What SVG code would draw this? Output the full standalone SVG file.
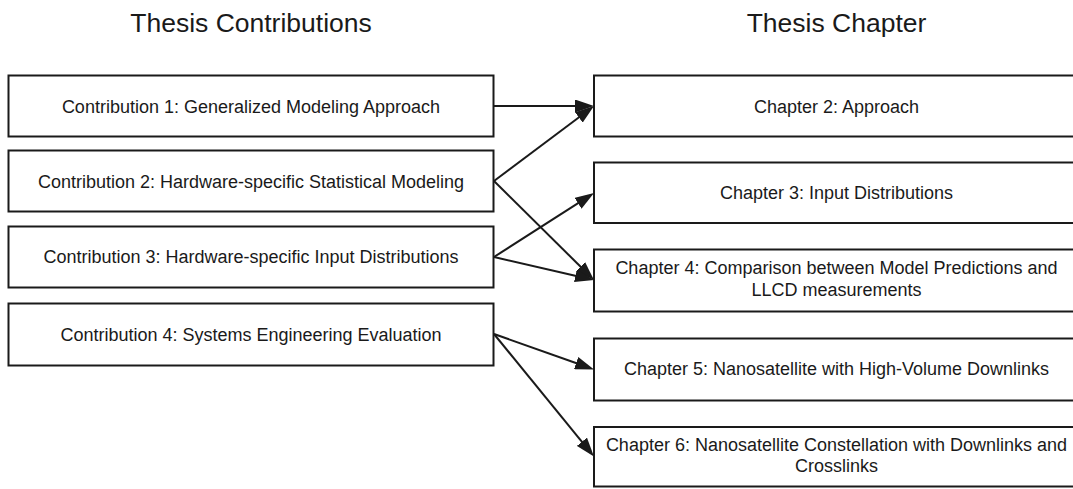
<svg xmlns="http://www.w3.org/2000/svg" width="1073" height="489" viewBox="0 0 1073 489">
  <style>
    .title { font-family: "Liberation Sans", Arial, sans-serif; font-size: 26.5px; fill: #1a1a1a; text-anchor: middle; }
    .label { font-family: "Liberation Sans", Arial, sans-serif; font-size: 18px; fill: #1a1a1a; text-anchor: middle; }
    .box { fill: #ffffff; stroke: #1a1a1a; stroke-width: 2; }
    .link { fill: none; stroke: #1a1a1a; stroke-width: 2; marker-end: url(#arrow); }
  </style>
  <defs>
    <!-- filled arrowhead; the path end sits 2px inside its base so the tip lands 17px further on -->
    <marker id="arrow" viewBox="0 0 19 13" refX="2" refY="6.5" markerWidth="19" markerHeight="13" markerUnits="userSpaceOnUse" orient="auto">
      <path d="M0,0 L19,6.5 L0,13 z" fill="#1a1a1a"/>
    </marker>
  </defs>

  <rect width="1073" height="489" fill="#ffffff"/>

  <!-- column headings -->
  <text class="title" x="251" y="32">Thesis Contributions</text>
  <text class="title" x="836.5" y="32">Thesis Chapter</text>

  <!-- contributions -->
  <g id="contribution-1">
    <rect class="box" x="8.5" y="75.5" width="485" height="61"/>
    <text class="label" x="251" y="113">Contribution 1: Generalized Modeling Approach</text>
  </g>
  <g id="contribution-2">
    <rect class="box" x="8.5" y="150.5" width="485" height="61"/>
    <text class="label" x="251" y="187.5">Contribution 2: Hardware-specific Statistical Modeling</text>
  </g>
  <g id="contribution-3">
    <rect class="box" x="8.5" y="226.5" width="485" height="61"/>
    <text class="label" x="251" y="263">Contribution 3: Hardware-specific Input Distributions</text>
  </g>
  <g id="contribution-4">
    <rect class="box" x="8.5" y="303.5" width="485" height="62"/>
    <text class="label" x="251" y="340.5">Contribution 4: Systems Engineering Evaluation</text>
  </g>

  <!-- chapters -->
  <g id="chapter-2">
    <rect class="box" x="594" y="75.5" width="485" height="61"/>
    <text class="label" x="836.5" y="113">Chapter 2: Approach</text>
  </g>
  <g id="chapter-3">
    <rect class="box" x="594" y="162.5" width="485" height="60.5"/>
    <text class="label" x="836.5" y="199">Chapter 3: Input Distributions</text>
  </g>
  <g id="chapter-4">
    <rect class="box" x="594" y="249.5" width="485" height="62"/>
    <text class="label" x="836.5" y="274">Chapter 4: Comparison between Model Predictions and</text>
    <text class="label" x="836.5" y="296">LLCD measurements</text>
  </g>
  <g id="chapter-5">
    <rect class="box" x="594" y="338.5" width="485" height="62"/>
    <text class="label" x="836.5" y="375">Chapter 5: Nanosatellite with High-Volume Downlinks</text>
  </g>
  <g id="chapter-6">
    <rect class="box" x="594" y="427" width="485" height="59.5"/>
    <text class="label" x="836.5" y="451">Chapter 6: Nanosatellite Constellation with Downlinks and</text>
    <text class="label" x="836.5" y="472">Crosslinks</text>
  </g>

  <!-- connectors: each path stops 17px short of the box edge it points at -->
  <g id="connectors">
    <path class="link" d="M494,106 L577,106"/>
    <path class="link" d="M494,181 L580.4,116.2"/>
    <path class="link" d="M494,181 L581.9,268"/>
    <path class="link" d="M494,257 L579.7,202.2"/>
    <path class="link" d="M494,257 L577.4,276.2"/>
    <path class="link" d="M494,334 L578,363.8"/>
    <path class="link" d="M494,334 L583.2,443.3"/>
  </g>
</svg>
